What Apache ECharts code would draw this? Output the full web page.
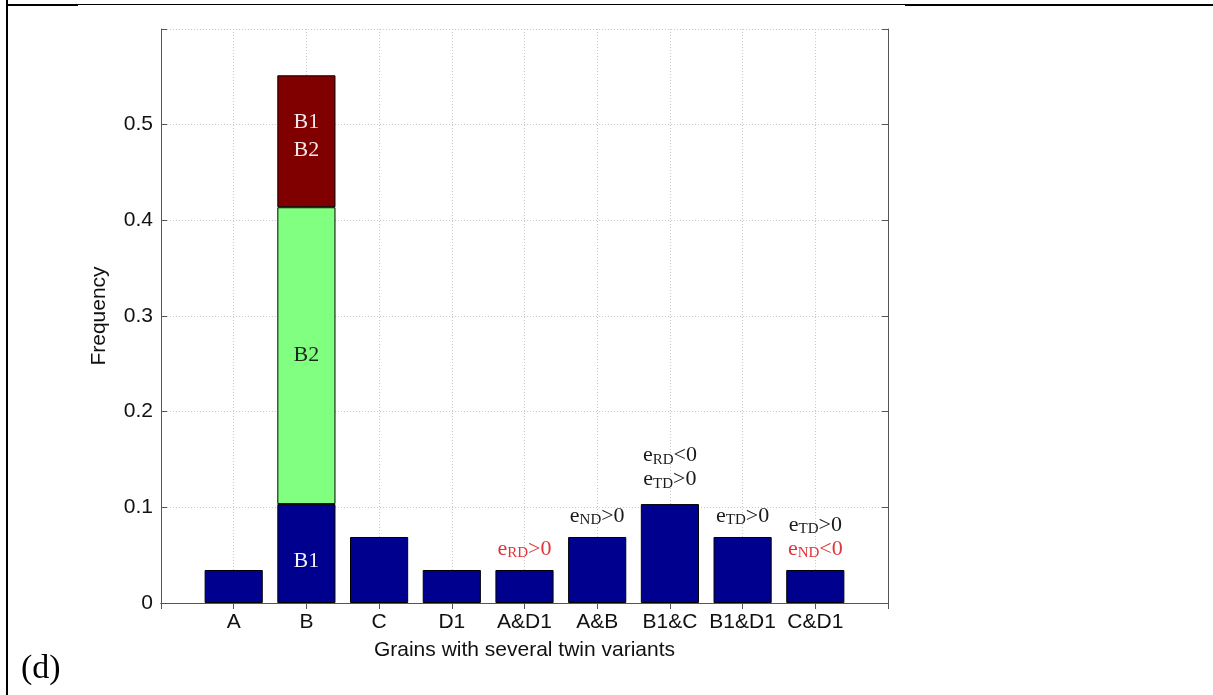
<!DOCTYPE html>
<html>
<head>
<meta charset="utf-8">
<title>Grains with several twin variants</title>
<script src="https://cdn.jsdelivr.net/npm/echarts@6/dist/echarts.min.js"></script>
<style>
  html, body { margin: 0; padding: 0; background: #fff; }
  #chart { width: 1213px; height: 695px; }
</style>
</head>
<body>
<div id="chart"></div>
<script>
// Grain groups along the horizontal axis
const categories = ['A', 'B', 'C', 'D1', 'A&D1', 'A&B', 'B1&C', 'B1&D1', 'C&D1'];

// Frequency of each group (single variant or B1 part of B)
const baseFreq = [0.0345, 0.1034, 0.069, 0.0345, 0.0345, 0.069, 0.1034, 0.069, 0.0345];
// B2 part of B, stacked on B1
const b2Freq = [null, 0.3103, null, null, null, null, null, null, null];
// B1 + B2 part of B, stacked on top
const b1b2Freq = [null, 0.1379, null, null, null, null, null, null, null];

// Segment names written inside the stacked B bar
const segmentNames = ['B1', 'B2', 'B1\nB2'];

// Strain-sign notes above bars: [style, letter, subscript, relation]
const notes = [
  null, null, null, null,
  [['r', 'e', 'RD', '>0']],
  [['k', 'e', 'ND', '>0']],
  [['k', 'e', 'RD', '<0'], ['k', 'e', 'TD', '>0']],
  [['k', 'e', 'TD', '>0']],
  [['k', 'e', 'TD', '>0'], ['r', 'e', 'ND', '<0']]
];

const yTickLabels = ['0', '0.1', '0.2', '0.3', '0.4', '0.5'];

const xAxisTitle = 'Grains with several twin variants';
const yAxisTitle = 'Frequency';
const panelTag = '(d)';

// ---- build options ----
const pad = arr => ['-'].concat(arr.map(v => (v === null ? '-' : v)), ['-']);
const axisCats = [''].concat(categories, ['']);

const SERIF = '"Liberation Serif", "Times New Roman", serif';
const SANS = '"Liberation Sans", Arial, sans-serif';
const NAVY = '#00008f', GREEN = '#80ff80', MAROON = '#800000';
const BOX = '#555555';
const AXIS_FONT = 21;

const noteRich = {
  k:  { fontFamily: SERIF, fontSize: 22, color: '#1a1a1a', lineHeight: 24 },
  ks: { fontFamily: SERIF, fontSize: 15, color: '#1a1a1a', lineHeight: 17, verticalAlign: 'bottom' },
  r:  { fontFamily: SERIF, fontSize: 22, color: '#e0343a', lineHeight: 24 },
  rs: { fontFamily: SERIF, fontSize: 15, color: '#e0343a', lineHeight: 17, verticalAlign: 'bottom' }
};

function noteText(lines) {
  return lines.map(([st, letter, sub, rel]) =>
    '{' + st + '|' + letter + '}{' + st + 's|' + sub + '}{' + st + '|' + rel + '}'
  ).join('\n');
}

const baseData = pad(baseFreq).map((v, i) => {
  if (v === '-') return v;
  const ci = i - 1;
  if (ci === 1) {
    return {
      value: v,
      label: {
        show: true, position: 'inside', offset: [0, 8],
        formatter: segmentNames[0],
        fontFamily: SERIF, fontSize: 22, color: '#f2f2fa'
      }
    };
  }
  if (notes[ci]) {
    return {
      value: v,
      label: {
        show: true, position: 'top', distance: notes[ci].length > 1 && ci === 6 ? 13 : 9,
        formatter: noteText(notes[ci]),
        rich: noteRich
      }
    };
  }
  return v;
});

const option = {
  animation: false,
  backgroundColor: '#ffffff',
  grid: { left: 161, top: 29, right: 325, bottom: 92, show: false },
  xAxis: [
    {
      type: 'category', data: axisCats, boundaryGap: false, position: 'bottom',
      name: xAxisTitle, nameLocation: 'middle', nameGap: 37,
      nameTextStyle: { fontFamily: SANS, fontSize: AXIS_FONT, color: '#111' },
      axisLine: { show: true, lineStyle: { color: BOX, width: 1 } },
      axisTick: { show: true, inside: true, length: 6, interval: 0, lineStyle: { color: BOX } },
      axisLabel: { interval: 0, margin: 9, fontFamily: SANS, fontSize: AXIS_FONT, color: '#111' },
      splitLine: { show: true, interval: 0, lineStyle: { color: '#c8c8c8', type: [1, 2], width: 1 } }
    },
    {
      type: 'category', data: axisCats, boundaryGap: false, position: 'top',
      axisLine: { show: true, lineStyle: { color: BOX, width: 1 } },
      axisTick: { show: true, inside: true, length: 6, interval: 0, lineStyle: { color: BOX } },
      axisLabel: { show: false },
      splitLine: { show: false }
    }
  ],
  yAxis: [
    {
      type: 'value', min: 0, max: 0.6, interval: 0.1, position: 'left',
      name: yAxisTitle, nameLocation: 'middle', nameGap: 51, nameRotate: 90,
      nameTextStyle: { fontFamily: SANS, fontSize: AXIS_FONT, color: '#111' },
      axisLine: { show: true, lineStyle: { color: BOX, width: 1 } },
      axisTick: { show: true, inside: true, length: 6, lineStyle: { color: BOX } },
      axisLabel: {
        margin: 8, fontFamily: SANS, fontSize: AXIS_FONT, color: '#111',
        formatter: v => {
          const i = Math.round(v * 10);
          return i < yTickLabels.length ? yTickLabels[i] : '';
        }
      },
      splitLine: { show: true, lineStyle: { color: '#c8c8c8', type: [1, 2], width: 1 } }
    },
    {
      type: 'value', min: 0, max: 0.6, interval: 0.1, position: 'right',
      axisLine: { show: true, lineStyle: { color: BOX, width: 1 } },
      axisTick: { show: true, inside: true, length: 6, lineStyle: { color: BOX } },
      axisLabel: { show: false },
      splitLine: { show: false }
    }
  ],
  series: [
    {
      name: 'B1', type: 'bar', stack: 'freq', barWidth: '80%',
      data: baseData,
      itemStyle: { color: NAVY, borderColor: '#000', borderWidth: 1 }
    },
    {
      name: 'B2', type: 'bar', stack: 'freq', barWidth: '80%',
      data: pad(b2Freq),
      itemStyle: { color: GREEN, borderColor: '#000', borderWidth: 1 },
      label: {
        show: true, position: 'inside', formatter: segmentNames[1],
        fontFamily: SERIF, fontSize: 22, color: '#1a2a1a'
      }
    },
    {
      name: 'B1B2', type: 'bar', stack: 'freq', barWidth: '80%',
      data: pad(b1b2Freq),
      itemStyle: { color: MAROON, borderColor: '#000', borderWidth: 1 },
      label: {
        show: true, position: 'inside', offset: [0, -5], formatter: segmentNames[2],
        fontFamily: SERIF, fontSize: 22, lineHeight: 28, color: '#f4e8e8'
      }
    }
  ],
  graphic: [
    // page frame around the figure cell
    { type: 'rect', shape: { x: 6, y: 0, width: 2, height: 695 }, style: { fill: '#000' } },
    { type: 'rect', shape: { x: 6, y: 4, width: 1207, height: 1 }, style: { fill: '#000' } },
    { type: 'rect', shape: { x: 6, y: 4, width: 72, height: 2 }, style: { fill: '#000' } },
    { type: 'rect', shape: { x: 905, y: 4, width: 308, height: 2 }, style: { fill: '#000' } },
    {
      type: 'text', left: 21, top: 652,
      style: { text: panelTag, font: '34px "Liberation Serif", serif', fill: '#000' }
    }
  ]
};

const chart = echarts.init(document.getElementById('chart'), null, { renderer: 'canvas' });
chart.setOption(option);
</script>
</body>
</html>
